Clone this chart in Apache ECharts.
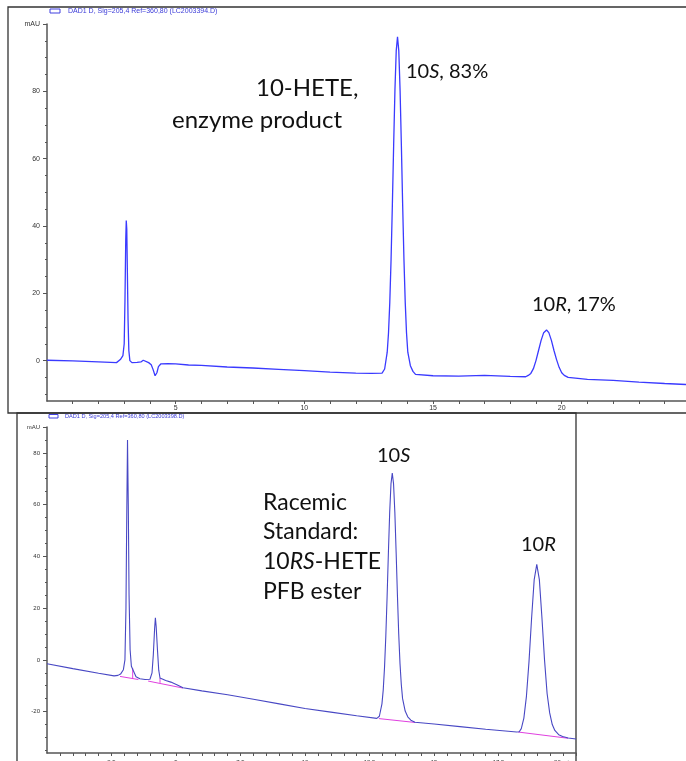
<!DOCTYPE html>
<html><head><meta charset="utf-8">
<script src="https://cdn.jsdelivr.net/npm/echarts@6/dist/echarts.min.js"></script>
<style>html,body{margin:0;padding:0;background:#fff}#c{width:686px;height:761px}</style>
</head><body><div id="c"></div>
<script>
// ---------- Top chromatogram (enzyme product) ----------
const topTimes = [0,1,2,2.7,2.85,2.95,3.0,3.03,3.06,3.08,3.10,3.12,3.15,3.18,3.22,3.3,3.5,3.65,3.74,3.8,3.95,4.05,4.12,4.2,4.27,4.33,4.42,4.7,5,5.5,6,7,8,9,10,11,12,12.6,13.02,13.12,13.22,13.27,13.32,13.37,13.42,13.47,13.52,13.57,13.62,13.67,13.72,13.77,13.82,13.87,13.92,13.97,14.02,14.12,14.22,14.32,15,16,17,18,18.6,18.7,18.8,18.9,19.0,19.1,19.2,19.3,19.41,19.5,19.6,19.7,19.8,19.9,20.0,20.1,20.25,21,22,23,24,24.83];
const topValues = [0.1,-0.1,-0.4,-0.6,0.3,1.5,5,18,36,41.6,39,28,12,3,0,-0.6,-0.5,-0.4,0.1,-0.3,-0.6,-1.2,-2.6,-4.5,-3.6,-1.8,-1.0,-0.9,-1.0,-1.3,-1.4,-1.9,-2.2,-2.6,-3.0,-3.4,-3.7,-3.8,-3.7,-2.5,2.5,8.2,17.3,30.1,46.2,64,80.3,92,96.2,92,80.3,64,46.2,30.1,17.3,8.2,2.5,-1.5,-3.2,-4.1,-4.5,-4.6,-4.4,-4.7,-4.8,-4.4,-3.8,-2.4,0,3,6,8.3,9.1,8.3,6,3,0.3,-2,-3.6,-4.4,-5.0,-5.6,-5.9,-6.4,-6.8,-7.1];

// ---------- Bottom chromatogram (racemic standard) ----------
const botTimes = [0,1,2,2.6,2.75,2.85,2.96,3.02,3.06,3.09,3.12,3.15,3.18,3.22,3.27,3.31,3.36,3.45,3.6,3.8,3.99,4.07,4.12,4.17,4.2,4.23,4.28,4.33,4.38,4.6,4.8,5.03,5.27,6,7,8,9,10,11,12,12.78,12.88,12.98,13.03,13.08,13.13,13.18,13.23,13.28,13.33,13.38,13.43,13.48,13.53,13.58,13.63,13.68,13.73,13.78,13.88,13.98,14.1,14.26,15,16,17,18.2,18.3,18.38,18.48,18.58,18.68,18.78,18.88,18.98,19.08,19.18,19.28,19.38,19.48,19.58,19.68,19.83,19.98,20.2,20.5];
const botValues = [-1.5,-3.4,-5.2,-6.2,-6.0,-5.5,-3.8,0,20,55,85,60,25,4,-2.5,-3.1,-4.5,-6.5,-7.3,-7.6,-7.5,-5,2,12,16.3,13,4,-4,-7,-8,-8.6,-9.6,-10.8,-12,-13.5,-15.2,-17,-18.8,-20.2,-21.6,-22.6,-21.8,-17,-11.6,-2.9,9.2,24.5,41.4,57,68,72.2,68,57,41.5,25,10,-1.5,-9.5,-15,-19.8,-22,-23.3,-24.1,-24.8,-25.8,-26.8,-27.9,-27.8,-26.6,-22.5,-14,-0.5,16.3,31,36.9,31,16.3,0,-13,-20.5,-25,-27.3,-28.9,-29.6,-30.2,-30.6];

// integration baselines (magenta) and drop lines
const baseA = [[2.83,-6.4],[3.54,-7.6]];
const dropA = [[3.32,-3.2],[3.32,-7.3]];
const baseB = [[3.92,-8.2],[5.27,-10.9]];
const dropB = [[4.38,-7.0],[4.38,-8.9]];
const baseC = [[12.86,-22.7],[14.27,-24.2]];
const baseD = [[18.26,-27.9],[20.19,-30.3]];

// ---------- Ticks / labels ----------
const topXLabels = [5,10,15,20];
const topXTicks = [1,2,3,4,5,6,7,8,9,10,11,12,13,14,15,16,17,18,19,20,21,22,23,24];
const topYLabels = [0,20,40,60,80,100];
const topYMinor = [-10,-5,0,5,10,15,20,25,30,35,40,45,50,55,60,65,70,75,80,85,90,95,100];
const botXLabels = [2.5,5,7.5,10,12.5,15,17.5,20];
const botXTicks = [0.5,1,1.5,2,2.5,3,3.5,4,4.5,5,5.5,6,6.5,7,7.5,8,8.5,9,9.5,10,10.5,11,11.5,12,12.5,13,13.5,14,14.5,15,15.5,16,16.5,17,17.5,18,18.5,19,19.5,20,20.5];
const botYLabels = [-20,0,20,40,60,80,90];
const botYMinor = [-35,-30,-25,-20,-15,-10,-5,0,5,10,15,20,25,30,35,40,45,50,55,60,65,70,75,80,85,90];

const zip = (a,b) => a.map((t,i)=>[t,b[i]]);
const AX = '#555';
const SMALL = 'Liberation Sans, Arial, sans-serif';
const BIG = 'Lato, "Open Sans", sans-serif';

function xAxisDef(grid, max, ticks, labels, fs, margin, fmt){
  return {gridIndex:grid, type:'value', min:0, max:max, position:'bottom',
    axisLine:{onZero:false, lineStyle:{color:AX,width:1.5}},
    axisTick:{customValues:ticks, length:3, lineStyle:{color:AX,width:1}},
    axisLabel:{customValues:labels, fontSize:fs, color:'#333', margin:margin, fontFamily:SMALL, formatter:fmt},
    splitLine:{show:false}};
}
function yAxisDef(grid, min, max, labels, top, fs){
  return {gridIndex:grid, type:'value', min:min, max:max, position:'left',
    axisLine:{onZero:false, lineStyle:{color:AX,width:1.5}},
    axisTick:{customValues:labels, length:4, lineStyle:{color:AX,width:1}},
    axisLabel:{customValues:labels, fontSize:fs, color:'#333', margin:7, fontFamily:SMALL,
      formatter:v => v===top ? 'mAU' : String(v)},
    splitLine:{show:false}};
}
function yMinorDef(grid, min, max, ticks){
  return {gridIndex:grid, type:'value', min:min, max:max, position:'left', offset:0,
    axisLine:{show:false, onZero:false},
    axisTick:{customValues:ticks, length:2, lineStyle:{color:AX,width:1}},
    axisLabel:{show:false}, splitLine:{show:false}};
}
function seg(data, color, w){
  return {type:'line', xAxisIndex:1, yAxisIndex:2, data:data, symbol:'none',
    lineStyle:{color:color,width:w}, silent:true, z:3};
}
const MAG = '#e040e0';

const option = {
  animation:false,
  backgroundColor:'#fff',
  grid:[
    {left:47, top:24, width:639, height:377, containLabel:false, outerBoundsMode:'none'},
    {left:47, top:427, width:529, height:326, containLabel:false, outerBoundsMode:'none'}
  ],
  xAxis:[
    xAxisDef(0, 24.83, topXTicks, topXLabels, 7, 4, v=>String(v)),
    xAxisDef(1, 20.5, botXTicks, botXLabels, 6, 6, v=> v===20 ? '20 min' : String(v))
  ],
  yAxis:[
    yAxisDef(0, -12, 100, topYLabels, 100, 7),
    yMinorDef(0, -12, 100, topYMinor),
    yAxisDef(1, -36, 90, botYLabels, 90, 6),
    yMinorDef(1, -36, 90, botYMinor)
  ],
  series:[
    {type:'line', xAxisIndex:0, yAxisIndex:0, data:zip(topTimes, topValues), symbol:'none',
      lineStyle:{color:'#3a3aff', width:1.3}, z:4},
    {type:'line', xAxisIndex:1, yAxisIndex:2, data:zip(botTimes, botValues), symbol:'none',
      lineStyle:{color:'#4848c4', width:1.1}, z:4},
    seg(baseA, MAG, 1), seg(dropA, MAG, 1), seg(baseB, MAG, 1), seg(dropB, MAG, 1),
    seg(baseC, MAG, 1), seg(baseD, MAG, 1)
  ],
  graphic:[
    {type:'rect', shape:{x:8, y:7, width:700, height:406}, style:{fill:null, stroke:'#333', lineWidth:1.3}, silent:true},
    {type:'rect', shape:{x:17, y:413, width:559, height:400}, style:{fill:null, stroke:'#333', lineWidth:1.3}, silent:true},
    {type:'rect', shape:{x:50, y:9, width:10, height:4}, style:{fill:null, stroke:'#4040e0', lineWidth:1}},
    {type:'text', x:68, y:11, style:{text:'DAD1 D, Sig=205,4 Ref=360,80 (LC2003394.D)', fill:'#3a3ad8', font:'7px '+SMALL, verticalAlign:'middle'}},
    {type:'rect', shape:{x:49, y:414.5, width:9, height:3.5}, style:{fill:null, stroke:'#4040e0', lineWidth:1}},
    {type:'text', x:65, y:416.5, style:{text:'DAD1 D, Sig=205,4 Ref=360,80 (LC2003398.D)', fill:'#3a3ad8', font:'5.6px '+SMALL, verticalAlign:'middle'}},
    {type:'text', x:256, y:88, style:{text:'10-HETE,', fill:'#111', font:'24px '+BIG, verticalAlign:'middle'}},
    {type:'text', x:172, y:120, style:{text:'enzyme product', fill:'#111', font:'24px '+BIG, verticalAlign:'middle'}},
    {type:'text', x:406, y:72, style:{text:'10{i|S}, 83%', fill:'#111', font:'20px '+BIG, verticalAlign:'middle',
      rich:{i:{fontStyle:'italic', fontSize:20, fontFamily:BIG, fill:'#111'}}}},
    {type:'text', x:532, y:305, style:{text:'10{i|R}, 17%', fill:'#111', font:'20px '+BIG, verticalAlign:'middle',
      rich:{i:{fontStyle:'italic', fontSize:20, fontFamily:BIG, fill:'#111'}}}},
    {type:'text', x:377, y:456, style:{text:'10{i|S}', fill:'#111', font:'20px '+BIG, verticalAlign:'middle',
      rich:{i:{fontStyle:'italic', fontSize:20, fontFamily:BIG, fill:'#111'}}}},
    {type:'text', x:521, y:545, style:{text:'10{i|R}', fill:'#111', font:'20px '+BIG, verticalAlign:'middle',
      rich:{i:{fontStyle:'italic', fontSize:20, fontFamily:BIG, fill:'#111'}}}},
    {type:'text', x:263, y:503, style:{text:'Racemic', fill:'#111', font:'23px '+BIG, verticalAlign:'middle'}},
    {type:'text', x:263, y:532, style:{text:'Standard:', fill:'#111', font:'23px '+BIG, verticalAlign:'middle'}},
    {type:'text', x:263, y:562, style:{text:'10{i|RS}-HETE', fill:'#111', font:'23px '+BIG, verticalAlign:'middle',
      rich:{i:{fontStyle:'italic', fontSize:23, fontFamily:BIG, fill:'#111'}}}},
    {type:'text', x:263, y:592, style:{text:'PFB ester', fill:'#111', font:'23px '+BIG, verticalAlign:'middle'}}
  ]
};
const chart = echarts.init(document.getElementById('c'), null, {renderer:'canvas'});
chart.setOption(option);
</script>
</body></html>
